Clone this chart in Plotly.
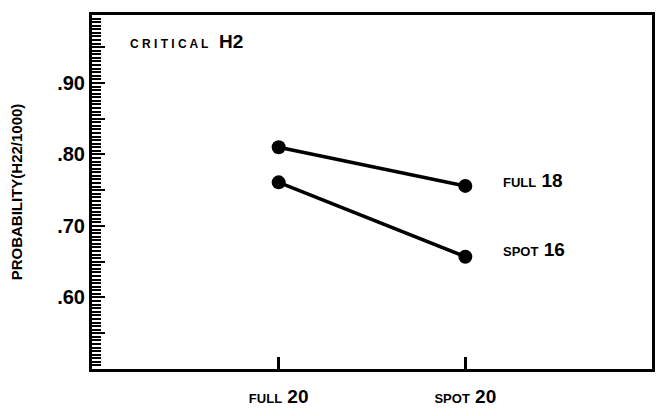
import plotly.graph_objects as go

categories = ["FULL 20", "SPOT 20"]
full18 = [0.810, 0.756]
spot16 = [0.761, 0.657]
series_names = [("FULL", "18"), ("SPOT", "16")]
ytick_vals = [0.55, 0.60, 0.65, 0.70, 0.75, 0.80, 0.85, 0.90, 0.95]
ytick_text = ["", ".60", "", ".70", "", ".80", "", ".90", ""]
minor_step = 0.005

FONT = "Liberation Sans, Arial, sans-serif"
x_idx = [0, 1]


def two_size(word, num):
    return ("<b><span style='font-size:13px'>" + word +
            "</span> <span style='font-size:19px'>" + num + "</span></b>")


cat_labels = [two_size(*c.split(" ")) for c in categories]

fig = go.Figure()
for vals, (w, n), ys in zip([full18, spot16], series_names, [5, 7]):
    fig.add_trace(go.Scatter(
        x=x_idx, y=vals, mode="lines+markers",
        line=dict(color="black", width=3.5),
        marker=dict(color="black", size=14),
        showlegend=False, hoverinfo="skip",
    ))
    fig.add_annotation(x=x_idx[-1], y=vals[-1], text=two_size(w, n),
                       xref="x", yref="y", showarrow=False, xanchor="left",
                       xshift=36, yshift=ys,
                       font=dict(family=FONT, size=19, color="black"))

# empty trace so the overlay axis carrying the short ticks is drawn
fig.add_trace(go.Scatter(x=[None], y=[None], yaxis="y2", showlegend=False,
                         hoverinfo="skip", mode="lines"))

fig.add_annotation(x=0.064, y=0.925, xref="paper", yref="paper",
                   text="<b><span style='font-size:12px'>C R I T I C A L</span>  <span style='font-size:19px'>H2</span></b>",
                   showarrow=False, xanchor="left", yanchor="middle",
                   font=dict(family=FONT, size=19, color="black"))

fig.update_layout(
    width=657, height=408,
    margin=dict(l=84, r=13, t=7, b=47, autoexpand=False),
    paper_bgcolor="white", plot_bgcolor="white",
    font=dict(family=FONT, color="black"),
    xaxis=dict(
        range=[-1, 2], tickvals=x_idx, ticktext=cat_labels,
        ticks="inside", ticklen=12, tickwidth=2.5, tickcolor="black",
        showline=True, linecolor="black", linewidth=3, mirror=True,
        showgrid=False, zeroline=False, automargin=False,
        ticklabelstandoff=8,
        tickfont=dict(family=FONT, size=19, color="black"),
    ),
    yaxis=dict(
        range=[0.50, 0.995], tickmode="array", tickvals=ytick_vals,
        ticktext=["<b>" + t + "</b>" for t in ytick_text],
        ticks="inside", ticklen=13, tickwidth=2, tickcolor="black",
        showline=True, linecolor="black", linewidth=3, mirror=True,
        showgrid=False, zeroline=False, automargin=False,
        tickfont=dict(family=FONT, size=20, color="black"),
        title=dict(text="<b>PROBABILITY(H22/1000)</b>",
                   font=dict(family=FONT, size=15, color="black"), standoff=10),
    ),
    yaxis2=dict(
        range=[0.50, 0.995], overlaying="y", side="left", anchor="x",
        tickmode="linear", tick0=0.5, dtick=minor_step, showticklabels=False,
        ticks="inside", ticklen=9, tickwidth=1.5, tickcolor="black",
        showline=False, showgrid=False, zeroline=False, automargin=False,
    ),
)

fig.write_html("out.html")
